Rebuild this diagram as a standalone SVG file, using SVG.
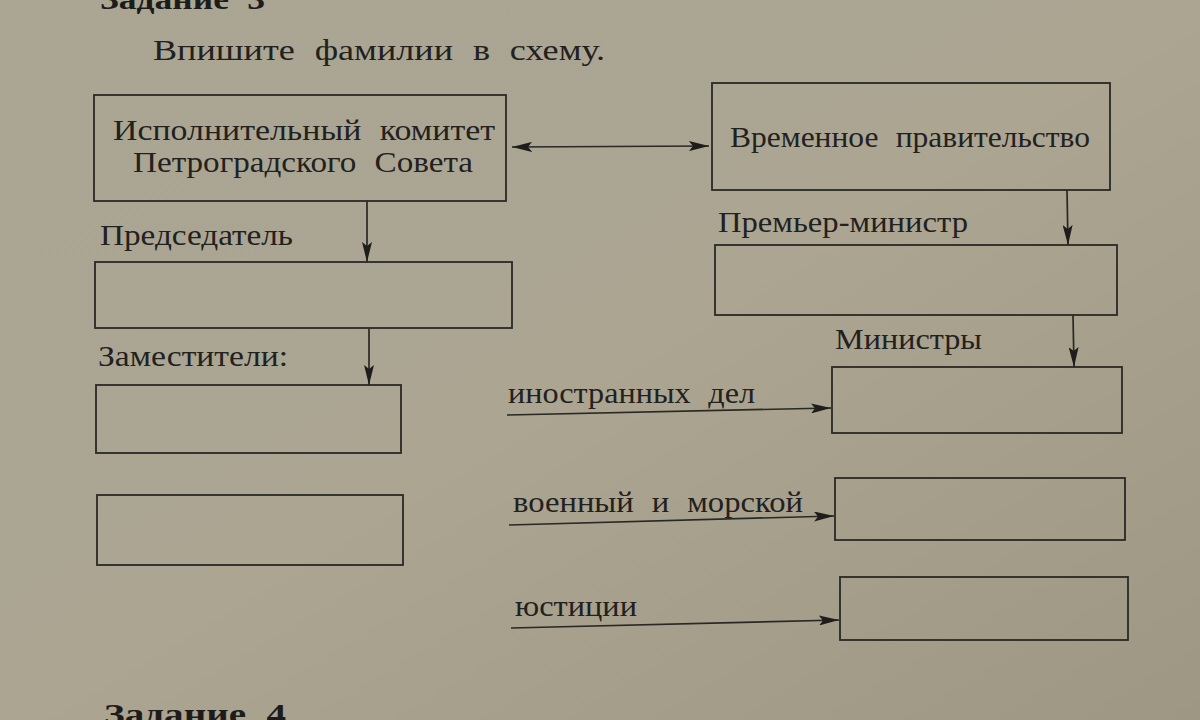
<svg xmlns="http://www.w3.org/2000/svg" width="1200" height="720" viewBox="0 0 1200 720">
<defs>
<linearGradient id="bg" x1="0" y1="0" x2="1" y2="1">
<stop offset="0" stop-color="#aaa693"/>
<stop offset="0.5" stop-color="#aba592"/>
<stop offset="1" stop-color="#9d9784"/>
</linearGradient>
<marker id="ah" viewBox="0 0 20 10" refX="20" refY="5" markerWidth="20" markerHeight="10" markerUnits="userSpaceOnUse" orient="auto-start-reverse">
<path d="M0,0 L20,5 L0,10 L4,5 Z" fill="#1f1d1b"/>
</marker>
<style>
.t{font-family:"Liberation Serif","DejaVu Serif",serif;font-size:30px;fill:#23211e;word-spacing:9px}
.h{font-family:"Liberation Serif","DejaVu Serif",serif;font-size:30px;font-weight:bold;fill:#1e1c1a;word-spacing:8px}
.b{fill:none;stroke:#2a2826;stroke-width:1.8}
.c{fill:none;stroke:#2a2826;stroke-width:1.7;marker-end:url(#ah)}
</style>
</defs>
<rect width="1200" height="720" fill="url(#bg)"/>
<text class="h" x="100" y="9" textLength="165" lengthAdjust="spacingAndGlyphs">Задание 3</text>
<text class="t" x="153" y="60" textLength="452" lengthAdjust="spacingAndGlyphs">Впишите фамилии в схему.</text>
<text class="h" x="104" y="724" textLength="182" lengthAdjust="spacingAndGlyphs">Задание 4</text>

<g id="connectors">
<line class="c" x1="512" y1="147" x2="709" y2="146" marker-start="url(#ah)"/>
<line class="c" x1="367" y1="201" x2="367" y2="262"/>
<line class="c" x1="369" y1="329" x2="369" y2="385"/>
<line class="c" x1="1067" y1="190" x2="1068" y2="245"/>
<line class="c" x1="1073" y1="315" x2="1074" y2="367"/>
<line class="c" x1="507" y1="415" x2="831" y2="408"/>
<line class="c" x1="509" y1="525" x2="834" y2="516"/>
<line class="c" x1="511" y1="628" x2="839" y2="620"/>
</g>

<g id="ispolkom">
<rect class="b" x="94" y="95" width="412" height="106"/>
<text class="t" x="113" y="140" textLength="382" lengthAdjust="spacingAndGlyphs">Исполнительный комитет</text>
<text class="t" x="133" y="172" textLength="340" lengthAdjust="spacingAndGlyphs">Петроградского Совета</text>
</g>
<g id="vremennoe">
<rect class="b" x="712" y="83" width="398" height="107"/>
<text class="t" x="730" y="147" textLength="360" lengthAdjust="spacingAndGlyphs">Временное правительство</text>
</g>
<g id="predsedatel">
<text class="t" x="100" y="245" textLength="193" lengthAdjust="spacingAndGlyphs">Председатель</text>
<rect class="b" x="95" y="262" width="417" height="66"/>
</g>
<g id="zamestitel1">
<text class="t" x="98" y="366" textLength="190" lengthAdjust="spacingAndGlyphs">Заместители:</text>
<rect class="b" x="96" y="385" width="305" height="68"/>
</g>
<g id="zamestitel2">
<rect class="b" x="97" y="495" width="306" height="70"/>
</g>
<g id="premier">
<text class="t" x="718" y="232" textLength="250" lengthAdjust="spacingAndGlyphs">Премьер-министр</text>
<rect class="b" x="715" y="245" width="402" height="70"/>
</g>
<g id="inostrannyh">
<text class="t" x="835" y="349" textLength="147" lengthAdjust="spacingAndGlyphs">Министры</text>
<text class="t" x="508" y="403" textLength="247" lengthAdjust="spacingAndGlyphs">иностранных дел</text>
<rect class="b" x="832" y="367" width="290" height="66"/>
</g>
<g id="voenny">
<text class="t" x="513" y="512" textLength="290" lengthAdjust="spacingAndGlyphs">военный и морской</text>
<rect class="b" x="835" y="478" width="290" height="62"/>
</g>
<g id="yusticii">
<text class="t" x="515" y="616" textLength="122" lengthAdjust="spacingAndGlyphs">юстиции</text>
<rect class="b" x="840" y="577" width="288" height="63"/>
</g>
</svg>
